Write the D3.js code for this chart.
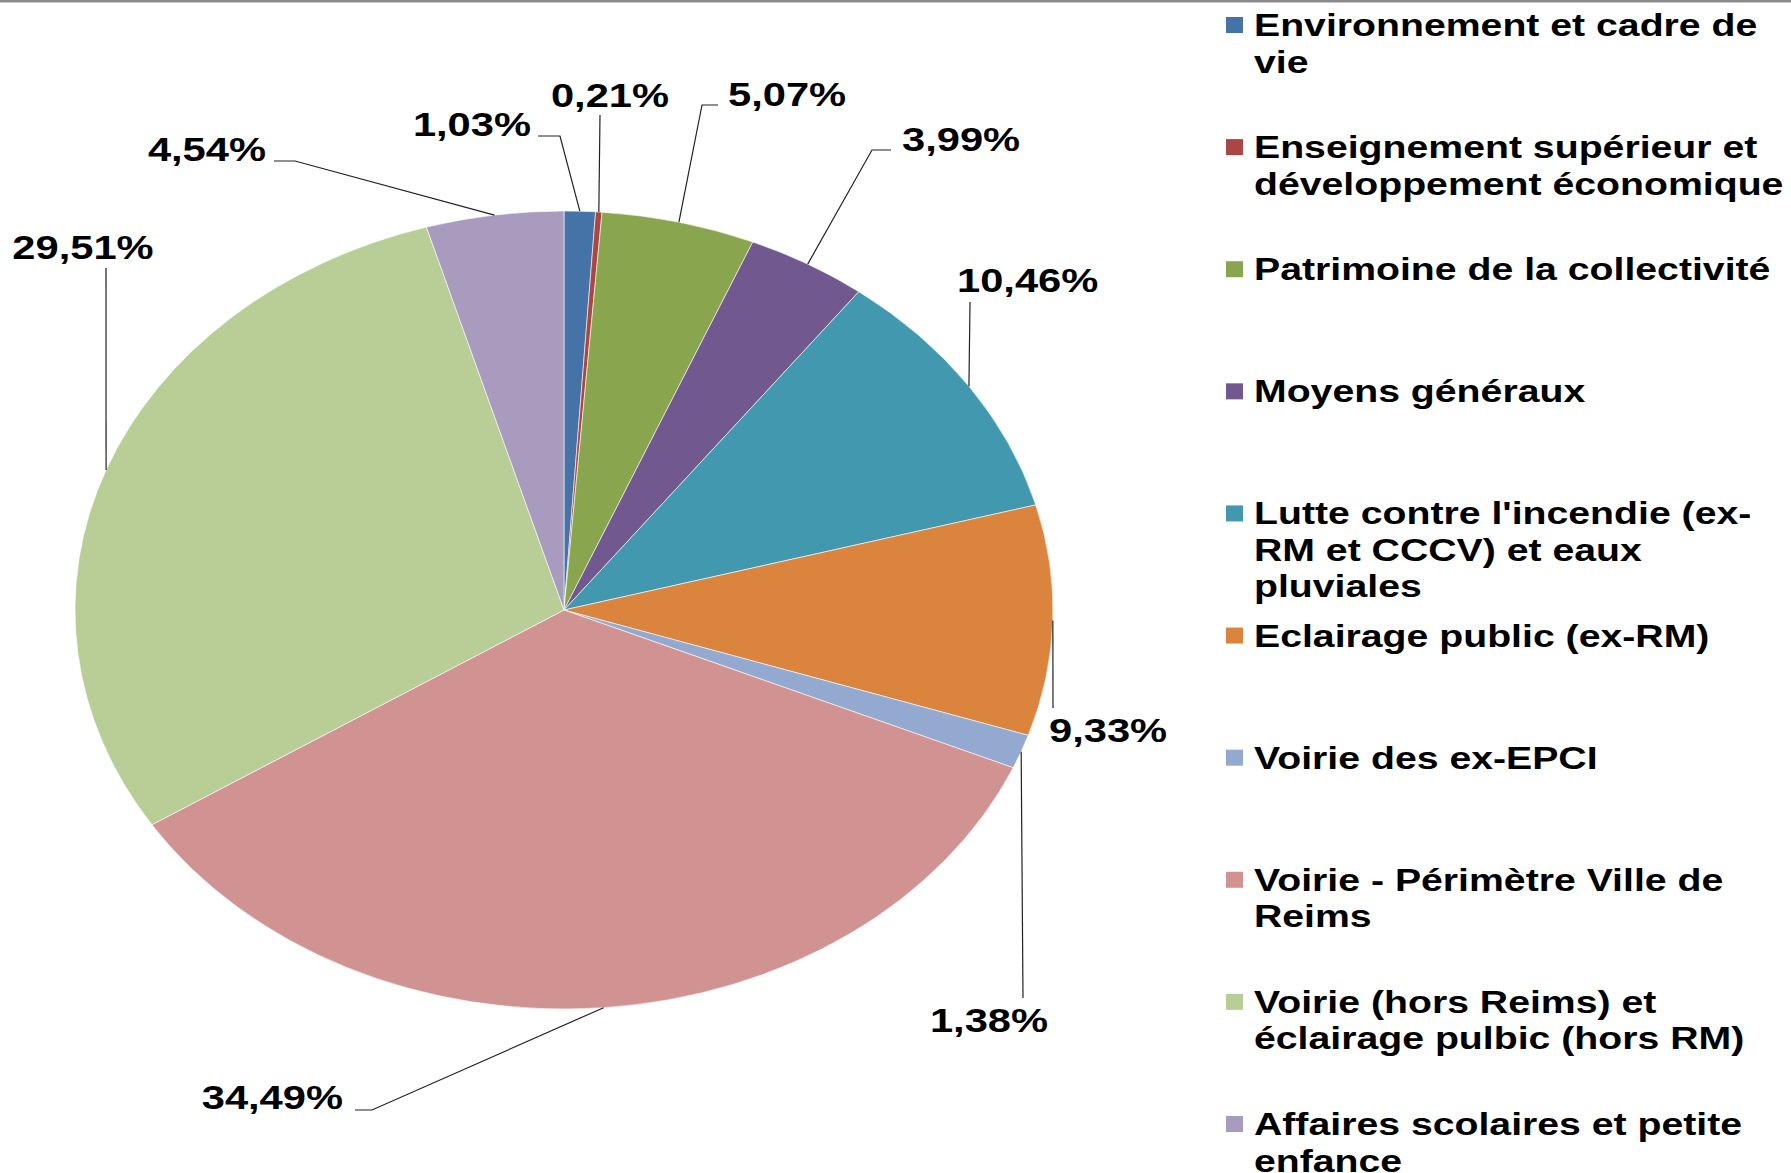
<!DOCTYPE html>
<html>
<head>
<meta charset="utf-8">
<script src="https://cdn.jsdelivr.net/npm/d3@7"></script>
<style>
    body { margin: 0; background: #fff; }
    text { font-family: "Liberation Sans", Arial, sans-serif; font-weight: bold; fill: #000; }
</style>
</head>
<body>
<script>
//slice categories, in drawing order (clockwise from 12 o'clock)
var categories = [
    "Environnement et cadre de vie",
    "Enseignement supérieur et développement économique",
    "Patrimoine de la collectivité",
    "Moyens généraux",
    "Lutte contre l'incendie (ex-RM et CCCV) et eaux pluviales",
    "Eclairage public (ex-RM)",
    "Voirie des ex-EPCI",
    "Voirie - Périmètre Ville de Reims",
    "Voirie (hors Reims) et éclairage pulbic (hors RM)",
    "Affaires scolaires et petite enfance"
];

//share of each category, in percent
var values = [1.03, 0.21, 5.07, 3.99, 10.46, 9.33, 1.38, 34.49, 29.51, 4.54];

//legend text, wrapped as in the original
var legendLines = [
    ["Environnement et cadre de", "vie"],
    ["Enseignement supérieur et", "développement économique"],
    ["Patrimoine de la collectivité"],
    ["Moyens généraux"],
    ["Lutte contre l'incendie (ex-", "RM et CCCV) et eaux", "pluviales"],
    ["Eclairage public (ex-RM)"],
    ["Voirie des ex-EPCI"],
    ["Voirie - Périmètre Ville de", "Reims"],
    ["Voirie (hors Reims) et", "éclairage pulbic (hors RM)"],
    ["Affaires scolaires et petite", "enfance"]
];

//slice colours
var colors = ["#4572A7", "#AA4643", "#89A54E", "#71588F", "#4198AF",
              "#DB843D", "#93A9CF", "#D19392", "#B9CD96", "#A99BBD"];

//where each data label sits and how its leader line bends
var labelLayout = [
    {anchor: "end",    x: 531,  y: 136,  path: [[560, 136], [538, 136]]},
    {anchor: "middle", x: 610,  y: 107,  path: [[600, 115]]},
    {anchor: "start",  x: 728,  y: 106,  path: [[702, 105], [718, 105]]},
    {anchor: "start",  x: 902,  y: 151,  path: [[872, 150], [891, 150]]},
    {anchor: "start",  x: 957,  y: 292,  path: [[970, 302]]},
    {anchor: "start",  x: 1049, y: 742,  path: [[1053, 708]]},
    {anchor: "middle", x: 989,  y: 1032, path: [[1023, 998]]},
    {anchor: "end",    x: 343,  y: 1109, path: [[372, 1110], [355, 1110]]},
    {anchor: "middle", x: 83,   y: 259,  path: [[106, 268]]},
    {anchor: "end",    x: 266,  y: 161,  path: [[295, 161], [274, 161]]}
];

window.onload = drawChart();

function drawChart(){

    var width = 1791,
        height = 1173;

    //the whole picture is stretched horizontally
    var stretch = 1.2256;

    //pie frame
    var cx = 564,
        cy = 610,
        radius = 399;

    var svg = d3.select("body")
        .append("svg")
        .attr("width", width)
        .attr("height", height);

    svg.append("rect")
        .attr("width", width)
        .attr("height", height)
        .attr("fill", "#fff");

    //thin frame edge at the top
    svg.append("rect")
        .attr("x", 0)
        .attr("y", 0)
        .attr("width", width)
        .attr("height", 2.5)
        .attr("fill", "#8a8a8a");

    var color = d3.scaleOrdinal()
        .domain(categories)
        .range(colors);

    var pie = d3.pie()
        .sort(null)
        .value(function(d){ return d.value; });

    var arc = d3.arc()
        .innerRadius(0)
        .outerRadius(radius);

    var data = categories.map(function(c, i){
        return {name: c, value: values[i], lines: legendLines[i], layout: labelLayout[i]};
    });

    var arcs = pie(data);

    //slices
    var pieGroup = svg.append("g")
        .attr("transform", "translate(" + cx + "," + cy + ") scale(" + stretch + ",1)");

    pieGroup.selectAll(".slice")
        .data(arcs)
        .enter()
        .append("path")
        .attr("class", "slice")
        .attr("d", arc)
        .attr("fill", function(d){ return color(d.data.name); })
        .attr("stroke", "#fff")
        .attr("stroke-width", 0.6)
        .attr("vector-effect", "non-scaling-stroke");

    //point on the rim at the middle of a slice
    function rimPoint(d){
        var a = (d.startAngle + d.endAngle) / 2;
        return [cx + stretch * radius * Math.sin(a), cy - radius * Math.cos(a)];
    }

    var line = d3.line();

    //leader lines
    svg.selectAll(".leader")
        .data(arcs)
        .enter()
        .append("path")
        .attr("class", "leader")
        .attr("d", function(d){
            return line([rimPoint(d)].concat(d.data.layout.path));
        })
        .attr("fill", "none")
        .attr("stroke", "#222")
        .attr("stroke-width", 1.2);

    var fmt = d3.format(".2f");

    //data labels
    svg.selectAll(".label")
        .data(arcs)
        .enter()
        .append("text")
        .attr("class", "label")
        .attr("transform", function(d){
            return "translate(" + d.data.layout.x + "," + d.data.layout.y + ") scale(" + stretch + ",1)";
        })
        .attr("text-anchor", function(d){ return d.data.layout.anchor; })
        .style("font-size", "34px")
        .text(function(d){ return fmt(d.data.value).replace(".", ",") + "%"; });

    //legend
    var legendY = d3.scalePoint()
        .domain(categories)
        .range([36, 1135]);

    var legend = svg.selectAll(".legend")
        .data(data)
        .enter()
        .append("g")
        .attr("class", "legend")
        .attr("transform", function(d){ return "translate(0," + legendY(d.name) + ")"; });

    legend.append("rect")
        .attr("x", 1226)
        .attr("y", -19)
        .attr("width", 17)
        .attr("height", 16)
        .attr("fill", function(d){ return color(d.name); });

    legend.each(function(d){
        var g = d3.select(this);
        d.lines.forEach(function(txt, j){
            g.append("text")
                .attr("transform", "translate(1254," + (j * 36.5) + ") scale(" + stretch + ",1)")
                .style("font-size", "32px")
                .text(txt);
        });
    });
}
</script>
</body>
</html>
